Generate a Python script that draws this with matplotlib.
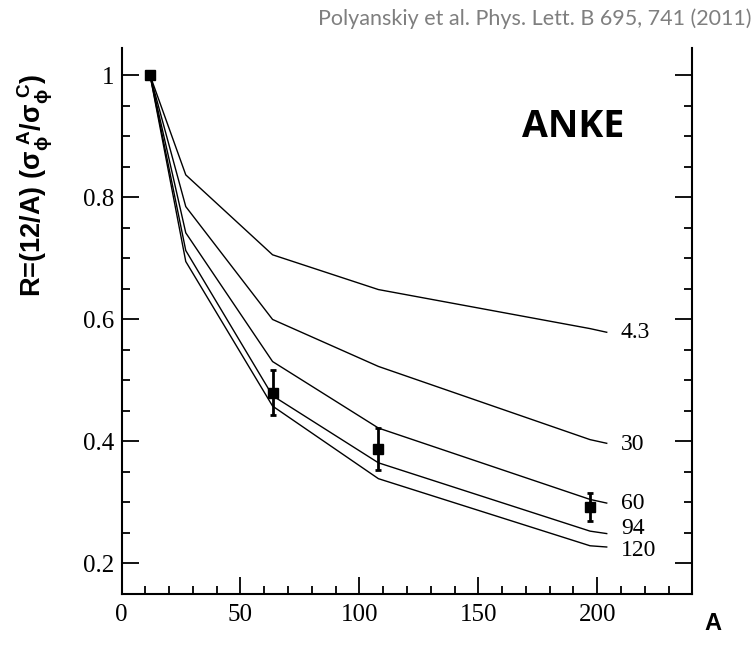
import numpy as np
import matplotlib
matplotlib.use("Agg")
import matplotlib.pyplot as plt
from matplotlib.ticker import MultipleLocator

# model curves (sigma_phiN in mb) vs target mass number
A_model = [12, 27, 63.5, 108, 197, 204]
sigma_labels = ["4.3", "30", "60", "94", "120"]
R_43 = [1.0, 0.837, 0.706, 0.649, 0.585, 0.579]
R_30 = [1.0, 0.785, 0.600, 0.523, 0.403, 0.397]
R_60 = [1.0, 0.742, 0.531, 0.422, 0.305, 0.299]
R_94 = [1.0, 0.713, 0.475, 0.365, 0.253, 0.249]
R_120 = [1.0, 0.695, 0.458, 0.339, 0.229, 0.227]
label_y = [0.578, 0.395, 0.298, 0.257, 0.222]

# ANKE data points
A_exp = [12, 63.5, 108, 197]
R_exp = [1.0, 0.480, 0.388, 0.292]
R_err = [0.0, 0.037, 0.034, 0.023]

plt.rcParams['mathtext.default'] = 'regular'

fig = plt.figure(figsize=(7.55, 6.61), dpi=100)
ax = fig.add_axes([0.161, 0.1014, 0.756, 0.826])

for R in [R_43, R_30, R_60, R_94, R_120]:
    ax.plot(A_model, R, color='black', lw=1.0)

for lab, yy in zip(sigma_labels, label_y):
    ax.text(210, yy, lab, fontsize=17, family='Liberation Serif', va='center', ha='left')

ax.errorbar(A_exp, R_exp, yerr=R_err, fmt='s', color='black', ms=7.5,
            elinewidth=2, capsize=2.5, capthick=2)

ax.set_xlim(0, 240)
ax.set_ylim(0.15, 1.045)
ax.xaxis.set_major_locator(MultipleLocator(50))
ax.xaxis.set_minor_locator(MultipleLocator(10))
ax.yaxis.set_major_locator(MultipleLocator(0.2))
ax.yaxis.set_minor_locator(MultipleLocator(0.05))
ax.set_yticks([0.2, 0.4, 0.6, 0.8, 1.0])
ax.set_yticklabels(["0.2", "0.4", "0.6", "0.8", "1"])

ax.tick_params(which='both', direction='in', right=True, top=False, width=1.3)
ax.tick_params(which='major', length=12)
ax.tick_params(which='minor', length=6)
ax.tick_params(axis='x', pad=7)
ax.tick_params(axis='y', pad=5)
for lab in ax.get_xticklabels() + ax.get_yticklabels():
    lab.set_family('Liberation Serif')
    lab.set_fontsize(18)

ax.spines['top'].set_visible(False)
for s in ['left', 'right', 'bottom']:
    ax.spines[s].set_linewidth(1.5)

fig.text(0.759, 0.808, "ANKE", fontsize=27, fontweight='bold', family='Open Sans',
         ha='center', va='center')
fig.text(0.047, 0.72, r'R=(12/A) ($\sigma_{\phi}^{\ A}/\sigma_{\phi}^{\ C}$)', rotation=90,
         fontsize=19.5, fontweight='bold', family='Liberation Sans', ha='center', va='center')
fig.text(0.944, 0.057, "A", fontsize=17, fontweight='bold', family='Liberation Sans',
         ha='center', va='center')
fig.text(0.995, 0.972, "Polyanskiy et al. Phys. Lett. B 695, 741 (2011)", fontsize=15.5,
         color='#7f7f7f', family='Lato', ha='right', va='center')

fig.savefig("out.png", dpi=100)
